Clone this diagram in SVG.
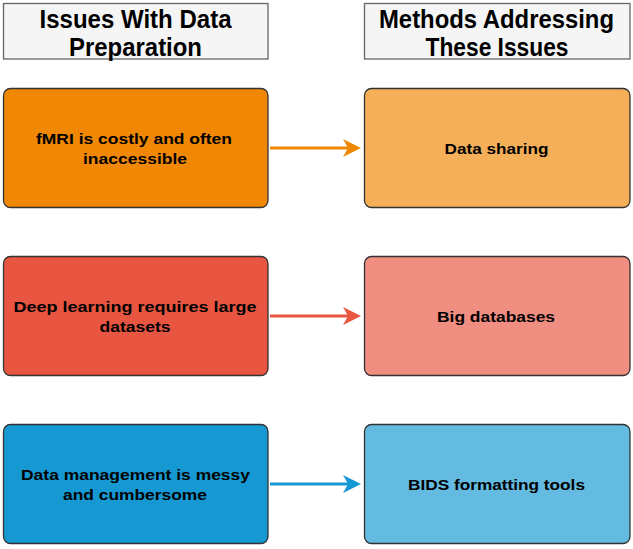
<svg xmlns="http://www.w3.org/2000/svg" width="633" height="549" viewBox="0 0 633 549">
<style>
.hdr{fill:#f5f5f5;stroke:#666666;stroke-width:1.3}
.box{stroke:#333333;stroke-width:1.3}
.ht{font-family:"Liberation Sans",Arial,sans-serif;font-weight:bold;font-size:25px;fill:#000;text-anchor:middle}
.bt{font-family:"Liberation Sans",Arial,sans-serif;font-weight:bold;font-size:15.5px;fill:#000;text-anchor:middle}
.cn{fill:none;stroke-width:3}
</style>
<defs>
<marker id="aO" markerUnits="userSpaceOnUse" markerWidth="20" markerHeight="20" refX="7" refY="9" orient="auto"><path d="M0,0 L18,9 L0,18 L5,9 Z" fill="#F08705"/></marker>
<marker id="aR" markerUnits="userSpaceOnUse" markerWidth="20" markerHeight="20" refX="7" refY="9" orient="auto"><path d="M0,0 L18,9 L0,18 L5,9 Z" fill="#E85642"/></marker>
<marker id="aB" markerUnits="userSpaceOnUse" markerWidth="20" markerHeight="20" refX="7" refY="9" orient="auto"><path d="M0,0 L18,9 L0,18 L5,9 Z" fill="#1699D3"/></marker>
</defs>
<rect width="633" height="549" fill="#ffffff"/>
<g id="header-issues">
<rect class="hdr" x="3.5" y="3.5" width="264.5" height="55.5"/>
<text class="ht" x="135.5" y="27.5" textLength="192" lengthAdjust="spacingAndGlyphs">Issues With Data</text>
<text class="ht" x="135.5" y="55.5" textLength="133" lengthAdjust="spacingAndGlyphs">Preparation</text>
</g>
<g id="header-methods">
<rect class="hdr" x="364.5" y="3.5" width="265.5" height="55.5"/>
<text class="ht" x="496.5" y="27.5" textLength="235" lengthAdjust="spacingAndGlyphs">Methods Addressing</text>
<text class="ht" x="497" y="55.5" textLength="143" lengthAdjust="spacingAndGlyphs">These Issues</text>
</g>
<g id="connectors">
<path class="cn" d="M270,148 L350,148" stroke="#F08705" marker-end="url(#aO)"/>
<path class="cn" d="M270,316 L350,316" stroke="#E85642" marker-end="url(#aR)"/>
<path class="cn" d="M270,484 L350,484" stroke="#1699D3" marker-end="url(#aB)"/>
</g>
<g id="issue-fmri">
<rect class="box" x="3.5" y="88.5" width="264.5" height="119" rx="7" fill="#F08705"/>
<text class="bt" x="134" y="144" textLength="196" lengthAdjust="spacingAndGlyphs">fMRI is costly and often</text>
<text class="bt" x="135" y="164" textLength="104" lengthAdjust="spacingAndGlyphs">inaccessible</text>
</g>
<g id="method-sharing">
<rect class="box" x="364.5" y="88.5" width="265.5" height="119" rx="7" fill="#F5AF58"/>
<text class="bt" x="496.5" y="153.5" textLength="104" lengthAdjust="spacingAndGlyphs">Data sharing</text>
</g>
<g id="issue-deep">
<rect class="box" x="3.5" y="256.5" width="264.5" height="119" rx="7" fill="#E85642"/>
<text class="bt" x="135" y="312" textLength="243" lengthAdjust="spacingAndGlyphs">Deep learning requires large</text>
<text class="bt" x="135" y="332" textLength="71" lengthAdjust="spacingAndGlyphs">datasets</text>
</g>
<g id="method-databases">
<rect class="box" x="364.5" y="256.5" width="265.5" height="119" rx="7" fill="#F08E81"/>
<text class="bt" x="496" y="321.5" textLength="118" lengthAdjust="spacingAndGlyphs">Big databases</text>
</g>
<g id="issue-management">
<rect class="box" x="3.5" y="424.5" width="264.5" height="119" rx="7" fill="#1699D3"/>
<text class="bt" x="135.5" y="480" textLength="229" lengthAdjust="spacingAndGlyphs">Data management is messy</text>
<text class="bt" x="135" y="500" textLength="144" lengthAdjust="spacingAndGlyphs">and cumbersome</text>
</g>
<g id="method-bids">
<rect class="box" x="364.5" y="424.5" width="265.5" height="119" rx="7" fill="#64BBE2"/>
<text class="bt" x="496.5" y="489.5" textLength="177" lengthAdjust="spacingAndGlyphs">BIDS formatting tools</text>
</g>
</svg>
